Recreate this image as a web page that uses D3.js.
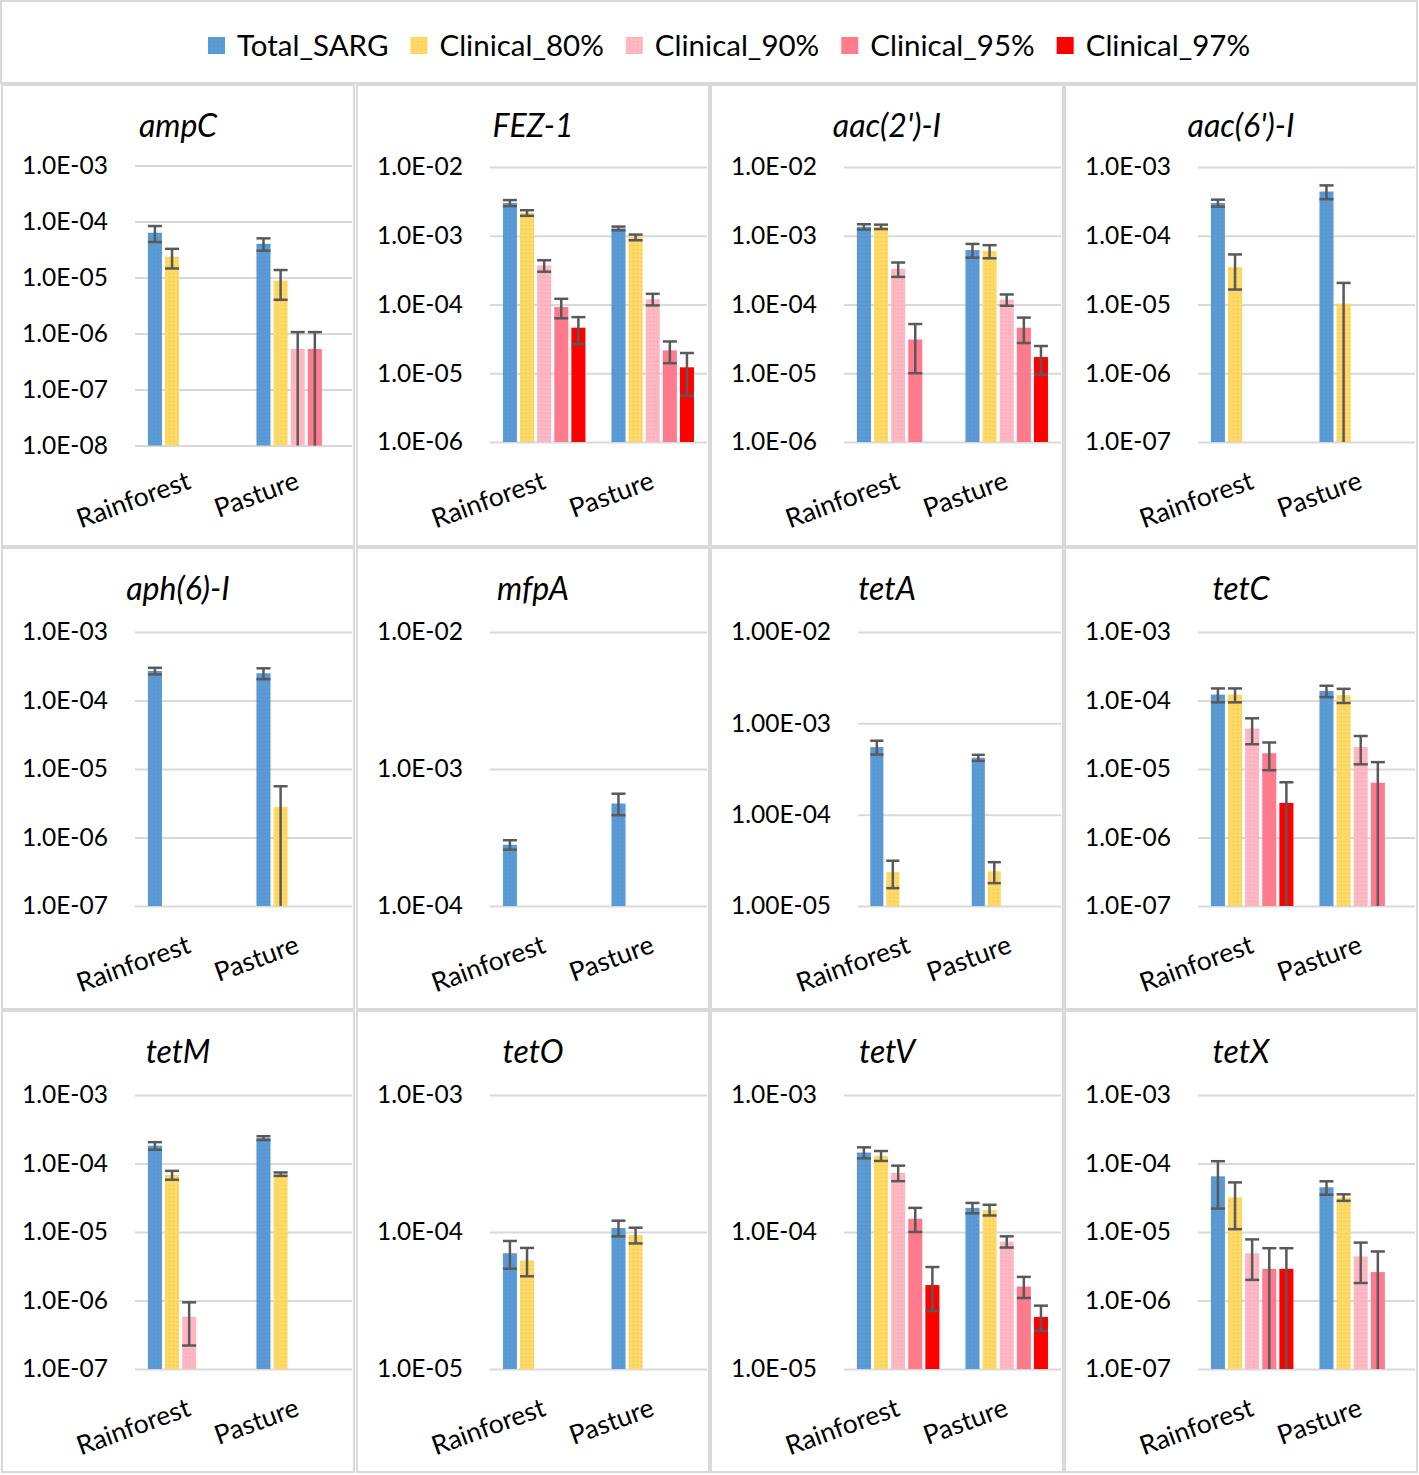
<!DOCTYPE html>
<html>
<head>
<meta charset="utf-8">
<script src="https://cdn.jsdelivr.net/npm/d3@7"></script>
<style>
  body { margin: 0; background: #fff; }
  svg { display: block; font-family: Lato, "Open Sans", sans-serif; }
</style>
</head>
<body>
<svg id="chart" width="1419" height="1475"></svg>
<script>
// ---- data ----
var genes = ["ampC", "FEZ-1", "aac(2')-I", "aac(6')-I",
             "aph(6)-I", "mfpA", "tetA", "tetC",
             "tetM", "tetO", "tetV", "tetX"];
var sites = ["Rainforest", "Pasture"];
var seriesNames = ["Total_SARG", "Clinical_80%", "Clinical_90%", "Clinical_95%", "Clinical_97%"];

// log axis range per gene (powers of ten) and tick label decimals
var yMinExp = [-8, -6, -6, -7, -7, -4, -5, -7, -7, -5, -5, -7];
var yMaxExp = [-3, -2, -2, -3, -3, -2, -2, -3, -3, -3, -3, -3];
var tickDecimals = [1, 1, 1, 1, 1, 1, 2, 1, 1, 1, 1, 1];

// mean abundance, one row per gene, one column per series (null = not detected)
var meanRainforest = [
    [6.3e-5, 2.35e-5, null, null, null],
    [3.0e-3, 2.15e-3, 3.7e-4, 9.2e-5, 4.6e-5],
    [1.35e-3, 1.35e-3, 3.3e-4, 3.1e-5, null],
    [3.0e-4, 3.5e-5, null, null, null],
    [2.7e-4, null, null, null, null],
    [2.8e-4, null, null, null, null],
    [5.5e-4, 2.35e-5, null, null, null],
    [1.22e-4, 1.22e-4, 3.9e-5, 1.7e-5, 3.2e-6],
    [1.82e-4, 6.8e-5, 5.8e-7, null, null],
    [7.0e-5, 6.2e-5, null, null, null],
    [3.8e-4, 3.6e-4, 2.7e-4, 1.25e-4, 4.1e-5],
    [6.5e-5, 3.2e-5, 4.9e-6, 2.9e-6, 2.9e-6]
];
var errRainforest = [
    [2.0e-5, 9.0e-6, 0, 0, 0],
    [3.0e-4, 2.0e-4, 7.0e-5, 2.9e-5, 1.95e-5],
    [1.2e-4, 1.0e-4, 7.8e-5, 2.1e-5, 0],
    [3.5e-5, 1.85e-5, 0, 0, 0],
    [3.0e-5, 0, 0, 0, 0],
    [2.2e-5, 0, 0, 0, 0],
    [9.5e-5, 7.8e-6, 0, 0, 0],
    [2.8e-5, 2.8e-5, 1.6e-5, 7.4e-6, 3.2e-6],
    [2.3e-5, 1.0e-5, 3.6e-7, 0, 0],
    [1.6e-5, 1.45e-5, 0, 0, 0],
    [3.5e-5, 3.0e-5, 3.5e-5, 2.5e-5, 1.45e-5],
    [4.3e-5, 2.1e-5, 2.9e-6, 2.9e-6, 2.9e-6]
];
var meanPasture = [
    [4.0e-5, 8.8e-6, 5.3e-7, 5.3e-7, null],
    [1.28e-3, 9.5e-4, 1.2e-4, 2.15e-5, 1.22e-5],
    [6.2e-4, 6.0e-4, 1.18e-4, 4.6e-5, 1.72e-5],
    [4.4e-4, 1.03e-5, null, null, null],
    [2.5e-4, 2.8e-6, null, null, null],
    [5.6e-4, null, null, null, null],
    [4.2e-4, 2.4e-5, null, null, null],
    [1.38e-4, 1.2e-4, 2.1e-5, 6.3e-6, null],
    [2.35e-4, 7.0e-5, null, null, null],
    [1.07e-4, 9.5e-5, null, null, null],
    [1.5e-4, 1.45e-4, 8.5e-5, 4.0e-5, 2.4e-5],
    [4.5e-5, 3.2e-5, 4.4e-6, 2.6e-6, null]
];
var errPasture = [
    [1.0e-5, 4.8e-6, 5.3e-7, 5.3e-7, 0],
    [8.0e-5, 9.0e-5, 2.3e-5, 7.5e-6, 7.5e-6],
    [1.4e-4, 1.3e-4, 2.2e-5, 1.85e-5, 7.7e-6],
    [1.0e-4, 1.03e-5, 0, 0, 0],
    [4.5e-5, 2.8e-6, 0, 0, 0],
    [1.0e-4, 0, 0, 0, 0],
    [3.2e-5, 6.2e-6, 0, 0, 0],
    [2.6e-5, 2.8e-5, 9.3e-6, 6.3e-6, 0],
    [1.5e-5, 4.0e-6, 0, 0, 0],
    [1.4e-5, 1.25e-5, 0, 0, 0],
    [1.3e-5, 1.3e-5, 8.0e-6, 7.0e-6, 5.0e-6],
    [1.0e-5, 3.5e-6, 2.6e-6, 2.6e-6, 0]
];

// ---- style / layout ----
var colors = ["#5B9BD5", "#FFD966", "#FFB8C3", "#FF7A8C", "#FF0000"];
var dotColors = ["#4C8ACB", "#EDC24E", "#F2A2AF", null, null];
var gridColor = "#D9D9D9";
var errColor = "#595959";

var colX = [2, 357, 711, 1065], colW = 352;
var rowY = [85, 548, 1011], rowH = 461;
var plotTop = [167, 632, 1095], plotBot = [442, 906, 1369];

var svg = d3.select("#chart");
svg.append("rect").attr("width", 1419).attr("height", 1475).attr("fill", "#fff");

var defs = svg.append("defs");
colors.forEach(function (c, i) {
    if (!dotColors[i]) return;
    var p = defs.append("pattern")
        .attr("id", "pat" + i)
        .attr("width", 4).attr("height", 4)
        .attr("patternUnits", "userSpaceOnUse");
    p.append("rect").attr("width", 4).attr("height", 4).attr("fill", c);
    p.append("rect").attr("x", 1).attr("y", 1).attr("width", 1).attr("height", 1).attr("fill", dotColors[i]);
});
var fillOf = function (i) { return dotColors[i] ? "url(#pat" + i + ")" : colors[i]; };

// legend
svg.append("rect")
    .attr("x", 1).attr("y", 1).attr("width", 1416).attr("height", 82)
    .attr("fill", "#fff").attr("stroke", gridColor).attr("stroke-width", 2);

var lx = 208;
seriesNames.forEach(function (s, i) {
    svg.append("rect")
        .attr("x", lx).attr("y", 37).attr("width", 17).attr("height", 17)
        .attr("fill", fillOf(i));
    var t = svg.append("text")
        .attr("x", lx + 29).attr("y", 45).attr("dy", "0.36em")
        .attr("font-size", 29.5).attr("fill", "#000")
        .text(s);
    lx += 29 + t.node().getComputedTextLength() + 22;
});

// panels
genes.forEach(function (gene, k) {
    var c = k % 4, r = Math.floor(k / 4);
    var px = colX[c], py = rowY[r];
    var g = svg.append("g");

    g.append("rect")
        .attr("x", px).attr("y", py).attr("width", colW).attr("height", rowH)
        .attr("fill", "#fff").attr("stroke", gridColor).attr("stroke-width", 2);

    g.append("text")
        .attr("x", px + colW / 2).attr("y", py + 52)
        .attr("text-anchor", "middle")
        .attr("font-style", "italic").attr("font-size", 32)
        .text(gene);

    var fmt = function (v) {
        var e = Math.round(Math.log10(v));
        return (1).toFixed(tickDecimals[k]) + "E" + (e < 0 ? "-" : "+") + String(Math.abs(e)).padStart(2, "0");
    };
    var tickVals = d3.range(yMinExp[k], yMaxExp[k] + 1).map(function (e) { return Math.pow(10, e); });

    // measure the widest tick label to place the plot area
    var probe = g.append("text").attr("font-size", 24.5).text(fmt(tickVals[0]));
    var labW = probe.node().getComputedTextLength();
    probe.remove();

    var plotLeft = px + 20 + labW + 27;
    var plotRight = px + colW - 2;
    // six tick rows get a slightly taller plot, as in the source
    var top = plotTop[r] - (tickVals.length > 5 ? 1.5 : 0);
    var bot = plotBot[r] + (tickVals.length > 5 ? 3.5 : 0);

    var y = d3.scaleLog()
        .domain([tickVals[0], tickVals[tickVals.length - 1]])
        .range([bot, top]);

    var axis = g.append("g")
        .attr("transform", "translate(" + plotLeft + ",0)")
        .call(d3.axisLeft(y)
            .tickValues(tickVals)
            .tickFormat(fmt)
            .tickSize(-(plotRight - plotLeft))
            .tickPadding(27));
    axis.select(".domain").remove();
    axis.selectAll(".tick line").attr("stroke", gridColor).attr("stroke-width", 2);
    axis.selectAll(".tick text")
        .attr("font-size", 24.5).attr("font-family", "Lato, 'Open Sans', sans-serif")
        .attr("fill", "#000");
    axis.attr("font-size", null).attr("font-family", null);

    var x0 = d3.scaleBand().domain(sites).range([plotLeft, plotRight])
        .paddingInner(0.24).paddingOuter(0.12);
    var x1 = d3.scaleBand().domain(d3.range(seriesNames.length)).range([0, x0.bandwidth()])
        .paddingInner(0.18).paddingOuter(0);

    var means = [meanRainforest[k], meanPasture[k]];
    var errs = [errRainforest[k], errPasture[k]];
    var pts = [];
    sites.forEach(function (s, si) {
        seriesNames.forEach(function (n, j) {
            var v = means[si][j];
            if (v) pts.push({ site: s, j: j, v: v, e: errs[si][j] });
        });
    });

    var yMin = y.domain()[0];
    var bx = function (d) { return x0(d.site) + x1(d.j); };
    var bw = x1.bandwidth();

    g.selectAll("rect.bar").data(pts).enter().append("rect")
        .attr("class", "bar")
        .attr("x", bx)
        .attr("y", function (d) { return y(d.v); })
        .attr("width", bw)
        .attr("height", function (d) { return y(yMin) - y(d.v); })
        .attr("fill", function (d) { return fillOf(d.j); });

    var eb = g.selectAll("g.err").data(pts.filter(function (d) { return d.e > 0; })).enter()
        .append("g").attr("class", "err")
        .attr("stroke", errColor).attr("stroke-width", 2.5);
    eb.append("line")
        .attr("x1", function (d) { return bx(d) + bw / 2; })
        .attr("x2", function (d) { return bx(d) + bw / 2; })
        .attr("y1", function (d) { return y(d.v + d.e); })
        .attr("y2", function (d) { return d.v - d.e > yMin * 1.0001 ? y(d.v - d.e) : y(yMin); });
    eb.append("line")
        .attr("x1", bx)
        .attr("x2", function (d) { return bx(d) + bw; })
        .attr("y1", function (d) { return y(d.v + d.e); })
        .attr("y2", function (d) { return y(d.v + d.e); });
    eb.filter(function (d) { return d.v - d.e > yMin * 1.0001; }).append("line")
        .attr("x1", bx)
        .attr("x2", function (d) { return bx(d) + bw; })
        .attr("y1", function (d) { return y(d.v - d.e); })
        .attr("y2", function (d) { return y(d.v - d.e); });

    // rotated category labels
    sites.forEach(function (s) {
        var tx = x0(s) + x0.bandwidth() / 2 + 3;
        var ty = plotBot[r] + 46;
        g.append("text")
            .attr("x", tx).attr("y", ty)
            .attr("text-anchor", "end")
            .attr("font-size", 26.5)
            .attr("transform", "rotate(-20," + tx + "," + ty + ")")
            .text(s);
    });
});
</script>
</body>
</html>
